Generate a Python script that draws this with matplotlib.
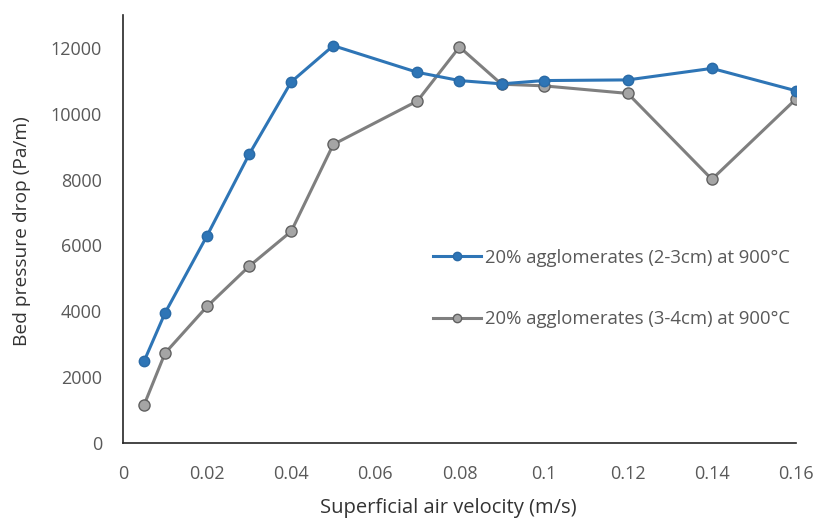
import numpy as np
import matplotlib
matplotlib.use("Agg")
import matplotlib.pyplot as plt
from matplotlib.lines import Line2D

plt.rcParams['font.family'] = ['Open Sans', 'DejaVu Sans']

# superficial air velocity (m/s)
velocity = [0.005, 0.01, 0.02, 0.03, 0.04, 0.05, 0.07, 0.08, 0.09, 0.1, 0.12, 0.14, 0.16]

# bed pressure drop (Pa/m)
drop_2_3cm = [2480, 3950, 6300, 8770, 10970, 12070, 11260, 11010, 10910, 11010, 11030, 11380, 10700]
drop_3_4cm = [1150, 2730, 4150, 5370, 6430, 9070, 10390, 12030, 10900, 10850, 10620, 8010, 10450]

labels = ['20% agglomerates (2-3cm) at 900°C',
          '20% agglomerates (3-4cm) at 900°C']

blue = '#2E75B6'
grey = '#7F7F7F'
text_col = '#595959'
label_col = '#333333'

fig = plt.figure(figsize=(8.16, 5.19), dpi=100)
ax = fig.add_axes([0.1507, 0.1464, 0.8248, 0.8246])

ax.plot(velocity, drop_2_3cm, color=blue, lw=2.2, marker='o', ms=7.5,
        mfc=blue, mec='#2A6AA6', mew=1.0, zorder=3)
ax.plot(velocity, drop_3_4cm, color=grey, lw=2.2, marker='o', ms=8,
        mfc='#A5A5A5', mec='#606060', mew=1.0, zorder=2)

ax.set_xlim(0, 0.16)
ax.set_ylim(0, 13000)
ax.set_xticks(np.arange(0, 0.161, 0.02))
ax.set_xticklabels(['0', '0.02', '0.04', '0.06', '0.08', '0.1', '0.12', '0.14', '0.16'])
ax.set_yticks(np.arange(0, 12001, 2000))

for side in ['top', 'right']:
    ax.spines[side].set_visible(False)
for side in ['left', 'bottom']:
    ax.spines[side].set_color('#262626')
    ax.spines[side].set_linewidth(1.2)

ax.tick_params(axis='both', length=0, labelsize=13, labelcolor=text_col)
ax.tick_params(axis='x', pad=16)
ax.tick_params(axis='y', pad=15)

ax.set_xlabel('Superficial air velocity (m/s)', fontsize=14.5, color=label_col)
ax.set_ylabel('Bed pressure drop (Pa/m)', fontsize=13.8, color=label_col)
ax.xaxis.set_label_coords(0.483, -0.128)
ax.yaxis.set_label_coords(-0.136, 0.495)

# legend handles with smaller markers
handles = [
    Line2D([], [], color=blue, lw=2.2, marker='o', ms=6, mfc=blue, mec='#2A6AA6'),
    Line2D([], [], color=grey, lw=2.2, marker='o', ms=6, mfc='#A5A5A5', mec='#606060'),
]
leg = ax.legend(handles, labels, loc='center left', bbox_to_anchor=(0.4606, 0.361),
                frameon=False, fontsize=13.3, labelspacing=2.35, handlelength=2.6,
                handletextpad=0.2, borderpad=0, borderaxespad=0)
for t in leg.get_texts():
    t.set_color(text_col)

fig.savefig('out.png', dpi=100)
